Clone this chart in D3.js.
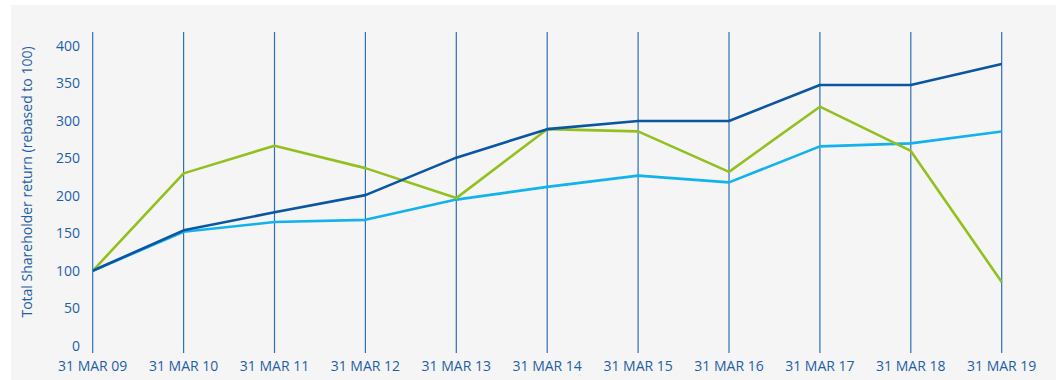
<!DOCTYPE html>
<html>
<head>
<meta charset="utf-8">
<script src="https://cdn.jsdelivr.net/npm/d3@7"></script>
<style>
  body { margin: 0; background: #fff; }
  svg text { font-family: "Open Sans", sans-serif; fill: #1f5fa6; }
</style>
</head>
<body>
<svg id="chart" width="1056" height="380"></svg>
<script>
const dates = ["31 MAR 09", "31 MAR 10", "31 MAR 11", "31 MAR 12", "31 MAR 13", "31 MAR 14",
               "31 MAR 15", "31 MAR 16", "31 MAR 17", "31 MAR 18", "31 MAR 19"];
const darkBlue = [100, 154, 178, 201, 251, 289, 300, 300, 348, 348, 376];
const lightBlue = [100, 152, 165, 168, 195, 212, 227, 218, 266, 270, 286];
const green = [100, 230, 267, 237, 197, 289, 286, 232, 319, 260, 85];
const yTicks = [0, 50, 100, 150, 200, 250, 300, 350, 400];

const svg = d3.select("#chart");

svg.append("rect")
    .attr("x", 11).attr("y", 5)
    .attr("width", 1045).attr("height", 375)
    .attr("fill", "#f5f5f5");

const x = d3.scalePoint().domain(dates).range([92.7, 1001.7]);
const y = d3.scaleLinear().domain([0, 400]).range([345.7, 46]);

// vertical gridlines
svg.append("g")
    .selectAll("line")
    .data(dates)
    .enter()
    .append("line")
    .attr("x1", d => x(d)).attr("x2", d => x(d))
    .attr("y1", 32).attr("y2", 353)
    .attr("stroke", "#2f6fb6")
    .attr("stroke-width", 1.2);

// y tick labels
svg.append("g")
    .selectAll("text")
    .data(yTicks)
    .enter()
    .append("text")
    .attr("x", 80)
    .attr("y", d => y(d))
    .attr("dy", "0.35em")
    .attr("text-anchor", "end")
    .style("font-size", "14px")
    .text(d => d);

// x tick labels
svg.append("g")
    .selectAll("text")
    .data(dates)
    .enter()
    .append("text")
    .attr("x", d => x(d))
    .attr("y", 366)
    .attr("dy", "0.35em")
    .attr("text-anchor", "middle")
    .style("font-size", "14px")
    .text(d => d);

// axis title
svg.append("text")
    .attr("transform", "translate(32,182) rotate(-90)")
    .attr("text-anchor", "middle")
    .style("font-size", "14px")
    .text("Total Shareholder return (rebased to 100)");

const line = d3.line()
    .x((d, i) => x(dates[i]))
    .y(d => y(d));

const series = [
    { values: lightBlue, color: "#12b2ec" },
    { values: green, color: "#93c01f" },
    { values: darkBlue, color: "#0a56a2" }
];

series.forEach(s => {
    svg.append("path")
        .datum(s.values)
        .attr("d", line)
        .attr("fill", "none")
        .attr("stroke", s.color)
        .attr("stroke-width", 2.6)
        .attr("stroke-linejoin", "round");
});
</script>
</body>
</html>
